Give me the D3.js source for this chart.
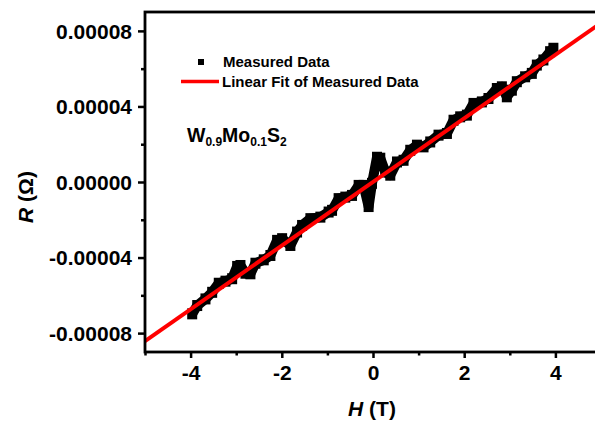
<!DOCTYPE html>
<html>
<head>
<meta charset="utf-8">
<script src="https://cdn.jsdelivr.net/npm/d3@7"></script>
<style>
  body { margin: 0; background: #fff; }
  svg { display: block; font-family: "Liberation Sans", Arial, sans-serif; font-weight: bold; }
</style>
</head>
<body>
<div id="chart"></div>
<script>
// field (T) and resistance (Ohm)
const fieldH = [
  -3.965, -3.855, -3.674, -3.527, -3.382, -3.235, -3.089, -2.979, -2.907, -2.797,
  -2.688, -2.578, -2.396, -2.250, -2.103, -1.993, -1.812, -1.665, -1.555, -1.373,
  -1.154, -0.973, -0.898, -0.754, -0.607, -0.460, -0.315, -0.206, -0.096, -0.022,
  0.088, 0.160, 0.269, 0.379, 0.526, 0.670, 0.817, 0.964, 1.108, 1.255,
  1.437, 1.621, 1.766, 1.912, 2.059, 2.204, 2.388, 2.532, 2.716, 2.826,
  2.935, 3.045, 3.154, 3.336, 3.483, 3.593, 3.737, 3.884, 3.956
];
const resistR = [
  -6.98e-5, -6.54e-5, -6.19e-5, -5.84e-5, -5.36e-5, -5.25e-5, -5.12e-5, -4.47e-5, -4.42e-5, -4.83e-5,
  -4.86e-5, -4.30e-5, -4.12e-5, -3.89e-5, -3.09e-5, -3.00e-5, -3.36e-5, -2.65e-5, -2.30e-5, -1.94e-5,
  -1.86e-5, -1.59e-5, -1.50e-5, -0.88e-5, -0.80e-5, -0.71e-5, -0.18e-5, -0.18e-5, -1.30e-5, -0.07e-5,
  1.31e-5, 1.26e-5, 0.53e-5, 0.36e-5, 1.06e-5, 1.15e-5, 1.68e-5, 1.95e-5, 1.86e-5, 2.12e-5,
  2.48e-5, 2.57e-5, 3.27e-5, 3.45e-5, 3.54e-5, 4.16e-5, 4.24e-5, 4.42e-5, 4.95e-5, 5.04e-5,
  4.51e-5, 4.86e-5, 5.31e-5, 5.57e-5, 5.75e-5, 6.19e-5, 6.46e-5, 6.90e-5, 7.08e-5
];

// linear fit R = slope * H + intercept
const fitSlope = 1.684e-5;
const fitIntercept = 0;
const fitRange = [-5, 5];

const xTicks = [-4, -2, 0, 2, 4];
const xTickLabels = ["-4", "-2", "0", "2", "4"];
const xMinorTicks = [-5, -3, -1, 1, 3];
const yTicks = [-8e-5, -4e-5, 0, 4e-5, 8e-5];
const yTickLabels = ["-0.00008", "-0.00004", "0.00000", "0.00004", "0.00008"];
const yMinorTicks = [-6e-5, -2e-5, 2e-5, 6e-5];

const legendLabels = ["Measured Data", "Linear Fit of Measured Data"];

const width = 595, height = 425;
const margin = { top: 12, right: -6, bottom: 73, left: 145 };

const svg = d3.select("#chart").append("svg")
  .attr("width", width)
  .attr("height", height);

const x = d3.scaleLinear().domain([-5, 5]).range([margin.left, width - margin.right]);
const y = d3.scaleLinear().domain([-9e-5, 9e-5]).range([height - margin.bottom, margin.top]);

const points = fieldH.map((h, i) => ({ h: h, r: resistR[i] }));

// measured data: thick band of square markers
const line = d3.line().x(d => x(d.h)).y(d => y(d.r));
svg.append("path")
  .datum(points)
  .attr("d", line)
  .attr("fill", "none")
  .attr("stroke", "#000")
  .attr("stroke-width", 10)
  .attr("stroke-linejoin", "round");

svg.append("g").selectAll("rect")
  .data(points)
  .join("rect")
  .attr("x", d => x(d.h) - 5)
  .attr("y", d => y(d.r) - 5.5)
  .attr("width", 10)
  .attr("height", 11)
  .attr("fill", "#000");

// linear fit
svg.append("line")
  .attr("x1", x(fitRange[0]))
  .attr("y1", y(fitSlope * fitRange[0] + fitIntercept))
  .attr("x2", x(fitRange[1]))
  .attr("y2", y(fitSlope * fitRange[1] + fitIntercept))
  .attr("stroke", "#ff0000")
  .attr("stroke-width", 4);

// frame
svg.append("rect")
  .attr("x", x(-5))
  .attr("y", y(9e-5))
  .attr("width", x(5) - x(-5))
  .attr("height", y(-9e-5) - y(9e-5))
  .attr("fill", "none")
  .attr("stroke", "#000")
  .attr("stroke-width", 2.8);

// axes
const xAxis = svg.append("g")
  .attr("transform", `translate(0,${y(-9e-5)})`)
  .call(d3.axisBottom(x).tickValues(xTicks).tickSize(6).tickSizeOuter(0)
    .tickFormat((d, i) => xTickLabels[i]));
const xMinor = svg.append("g")
  .attr("transform", `translate(0,${y(-9e-5)})`)
  .call(d3.axisBottom(x).tickValues(xMinorTicks).tickSize(3.5).tickSizeOuter(0).tickFormat(""));

const yAxis = svg.append("g")
  .attr("transform", `translate(${x(-5)},0)`)
  .call(d3.axisLeft(y).tickValues(yTicks).tickSize(7).tickSizeOuter(0)
    .tickFormat((d, i) => yTickLabels[i]));
const yMinor = svg.append("g")
  .attr("transform", `translate(${x(-5)},0)`)
  .call(d3.axisLeft(y).tickValues(yMinorTicks).tickSize(4).tickSizeOuter(0).tickFormat(""));

[xAxis, xMinor, yAxis, yMinor].forEach(g => {
  g.select(".domain").remove();
  g.selectAll(".tick line").attr("stroke", "#000").attr("stroke-width", 2.5);
});

xAxis.selectAll(".tick text")
  .attr("fill", "#000")
  .attr("font-family", "Liberation Sans, Arial, sans-serif")
  .attr("font-weight", "bold")
  .attr("font-size", 21)
  .attr("dy", null)
  .attr("y", 28);

yAxis.selectAll(".tick text")
  .attr("fill", "#000")
  .attr("font-family", "Liberation Sans, Arial, sans-serif")
  .attr("font-weight", "bold")
  .attr("font-size", 21)
  .attr("x", -13)
  .attr("dy", "0.35em");

// axis titles
const xTitle = svg.append("text")
  .attr("x", 372)
  .attr("y", 416)
  .attr("text-anchor", "middle")
  .attr("font-size", 21);
xTitle.append("tspan").attr("font-style", "italic").text("H");
xTitle.append("tspan").text(" (T)");

const yTitle = svg.append("text")
  .attr("transform", "translate(33,197) rotate(-90)")
  .attr("text-anchor", "middle")
  .attr("font-size", 21);
yTitle.append("tspan").attr("font-style", "italic").text("R");
yTitle.append("tspan").text(" (Ω)");

// legend
svg.append("rect")
  .attr("x", 198)
  .attr("y", 59)
  .attr("width", 6)
  .attr("height", 6)
  .attr("fill", "#000");
svg.append("text")
  .attr("x", 223)
  .attr("y", 67)
  .attr("font-size", 15)
  .text(legendLabels[0]);
svg.append("line")
  .attr("x1", 181).attr("x2", 219)
  .attr("y1", 81.5).attr("y2", 81.5)
  .attr("stroke", "#ff0000")
  .attr("stroke-width", 3.5);
svg.append("text")
  .attr("x", 222)
  .attr("y", 87)
  .attr("font-size", 15)
  .text(legendLabels[1]);

// sample label
const sample = svg.append("text")
  .attr("x", 187)
  .attr("y", 142)
  .attr("font-size", 19.5);
sample.append("tspan").text("W");
sample.append("tspan").attr("font-size", 12).attr("dy", 4).text("0.9");
sample.append("tspan").attr("dy", -4).text("Mo");
sample.append("tspan").attr("font-size", 12).attr("dy", 4).text("0.1");
sample.append("tspan").attr("dy", -4).text("S");
sample.append("tspan").attr("font-size", 12).attr("dy", 4).text("2");
</script>
</body>
</html>
